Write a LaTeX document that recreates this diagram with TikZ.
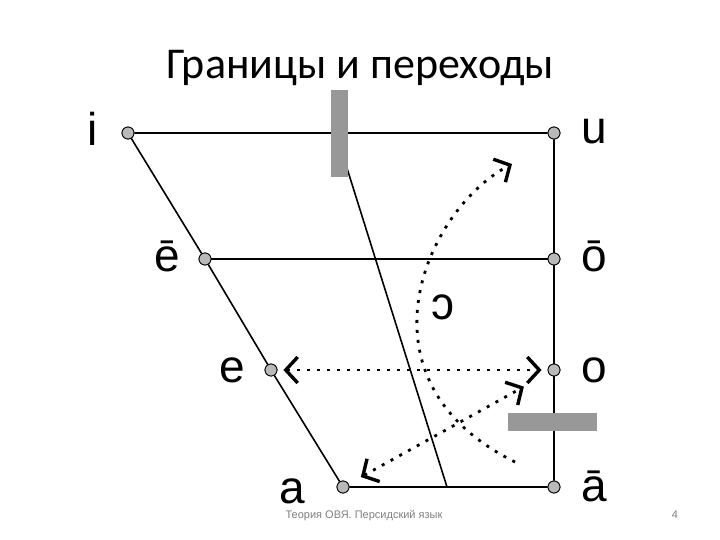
\documentclass[tikz,border=0pt]{standalone}
\usepackage{fontspec}
\setmainfont{Carlito}
\newfontfamily\vowfont{Liberation Sans}
\usetikzlibrary{arrows.meta}

\begin{document}
\begin{tikzpicture}[x=1pt,y=-1pt,
    dot/.style={circle,draw,thick,fill=gray!55,inner sep=0pt,minimum size=12pt},
    vow/.style={anchor=base,inner sep=0pt,font=\vowfont\fontsize{46}{48}\selectfont},
    ln/.style={line width=1.6pt},
    bar/.style={fill=gray!85!black!70,draw=none},
    dotarr/.style={line width=2.8pt,dash pattern=on 3pt off 7pt,
      arrows={Straight Barb[length=12pt,width=26pt,line width=3.4pt,sep=0pt]-Straight Barb[length=12pt,width=26pt,line width=3.4pt,sep=0pt]}},
    dotone/.style={line width=2.8pt,dash pattern=on 3pt off 7pt,
      -{Straight Barb[length=12pt,width=26pt,line width=3.4pt,sep=0pt]}} ]
  \path[use as bounding box,fill=white] (0,0) rectangle (720,540);
  \node[font=\fontsize{44}{50}\selectfont] (title) at (360,68) {Границы и переходы};
  \node[dot] (i) at (128,133) {};
  \node[dot] (u) at (554,133) {};
  \node[dot] (ee) at (205,259) {};
  \node[dot] (oo) at (554,259) {};
  \node[dot] (e) at (271,370) {};
  \node[dot] (o) at (554,370) {};
  \node[dot] (a) at (343,487) {};
  \node[dot] (aa) at (554,487) {};
  \node[vow] (li) at (93,146) {i};
  \node[vow] (lu) at (594,144) {u};
  \node[vow] (lee) at (167,271) {ē};
  \node[vow] (loo) at (594,271) {ō};
  \node[vow] (le) at (232,382) {e};
  \node[vow] (lo) at (594,382) {o};
  \node[vow] (la) at (292,503) {a};
  \node[vow] (laa) at (594,501) {ā};
  \node[vow] (lopen) at (443,319) {ɔ};
  \coordinate (btop) at (346,165);
  \coordinate (bfoot) at (447,487);
  \coordinate (cstart) at (515,462);
  \coordinate (cend) at (512,164);
  \draw[ln] (i) -- (u) -- (aa) -- (a) -- (e) -- (ee) -- (i);
  \draw[ln] (ee) -- (oo);
  \draw[ln] (btop) -- (bfoot);
  \fill[bar] (331,90) rectangle (348,177);
  \fill[bar] (508,413) rectangle (597,431);
  \draw[dotarr,shorten <=6pt,shorten >=6pt] (e) -- (o);
  \draw[dotarr,shorten <=14pt,shorten >=28pt] (a) -- (o);
  \draw[dotone] (cstart) .. controls (350,380) and (425,210) .. (cend);
  \foreach \n in {i,u,ee,oo,e,o,a,aa} \node[dot] at (\n) {};
  \node[font=\vowfont\fontsize{11}{12}\selectfont,text=gray] (foot) at (364,516) {Теория ОВЯ. Персидский язык};
  \node[font=\vowfont\fontsize{11}{12}\selectfont,text=gray] (page) at (675,515) {4};
\end{tikzpicture}
\end{document}
